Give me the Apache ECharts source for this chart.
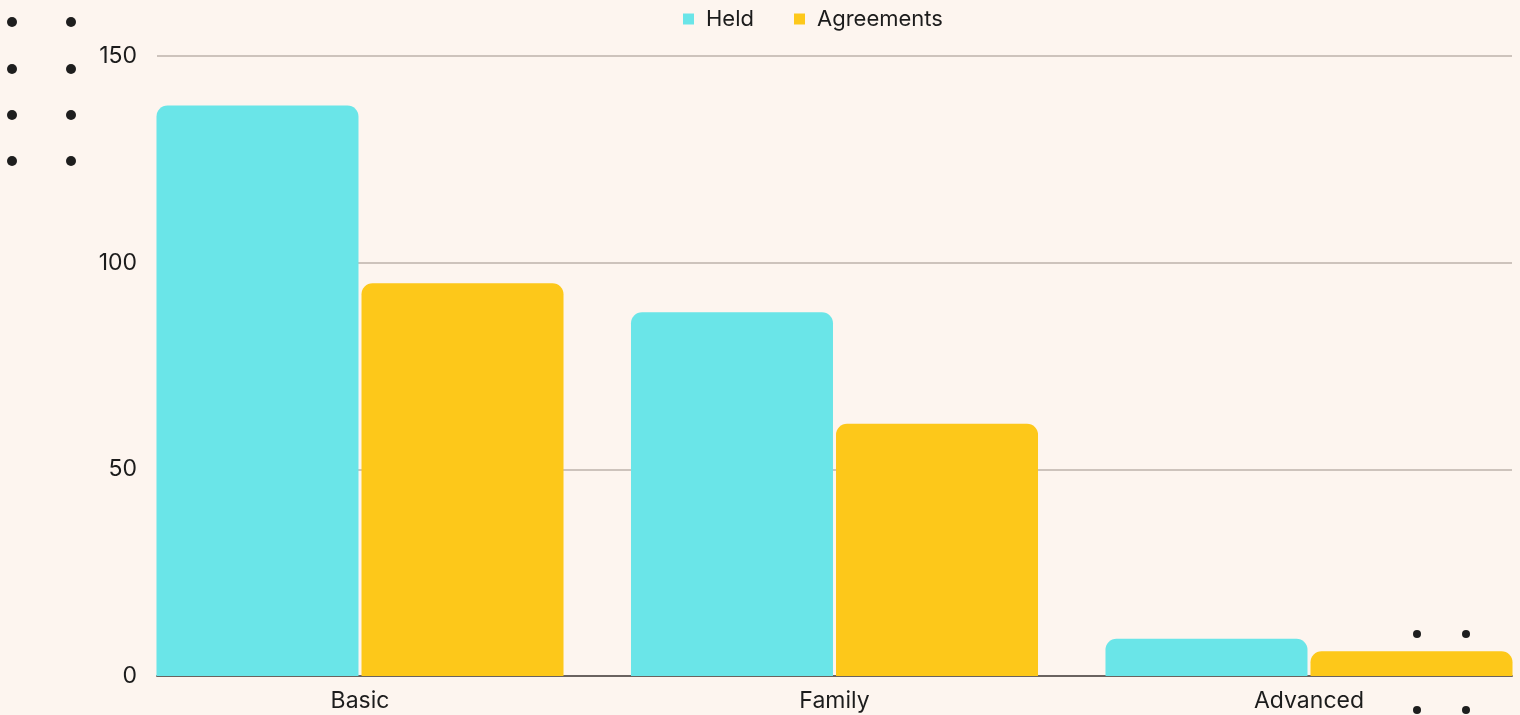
<!DOCTYPE html>
<html>
<head>
<meta charset="utf-8">
<script src="https://cdn.jsdelivr.net/npm/echarts@6/dist/echarts.min.js"></script>
<style>
html,body{margin:0;padding:0;background:#fdf5ef;}
#main{width:1520px;height:715px;}
</style>
</head>
<body>
<div id="main"></div>
<script>
const categories = ['Basic', 'Family', 'Advanced'];
const heldValues = [138, 88, 9];
const agreementValues = [95, 61, 6];
const yTicks = [0, 50, 100, 150];

const chart = echarts.init(document.getElementById('main'));
const font = 'Inter, "Open Sans", sans-serif';
const textColor = '#1c1c1c';

function dot(x, y, r, z) {
  return { type: 'circle', shape: { cx: x, cy: y, r: r }, style: { fill: '#1e1e1e' }, z: z, silent: true };
}
const dots = [];
[22, 69, 115, 161].forEach(y => { dots.push(dot(12, y, 5, 1)); dots.push(dot(71, y, 5, 1)); });
[634, 672, 710].forEach(y => { dots.push(dot(1417, y, 4, 1)); dots.push(dot(1466, y, 4, 1)); });

chart.setOption({
  backgroundColor: '#fdf5ef',
  animation: false,
  textStyle: { fontFamily: font },
  legend: {
    top: 8,
    left: 683,
    padding: 0,
    itemWidth: 11,
    itemHeight: 11,
    itemGap: 40,
    icon: 'rect',
    textStyle: { fontSize: 22, color: textColor, fontFamily: font, padding: [0, 0, 0, 7] },
    data: ['Held', 'Agreements']
  },
  graphic: dots,
  grid: [
    { left: 122.75, width: 1423.5, top: 56, bottom: 39, outerBoundsMode: 'none', containLabel: false },
    { left: 157, right: 8, top: 56, bottom: 39, outerBoundsMode: 'none' }
  ],
  xAxis: [
    {
      type: 'category', gridIndex: 0, data: categories,
      axisLine: { show: false }, axisTick: { show: false },
      axisLabel: { fontSize: 23, color: textColor, margin: 14, fontFamily: font }
    },
    {
      type: 'category', gridIndex: 1, data: categories,
      axisLine: { show: true, lineStyle: { color: '#6a6360', width: 2 } },
      axisTick: { show: false }, axisLabel: { show: false }
    }
  ],
  yAxis: [
    {
      type: 'value', gridIndex: 0, min: 0, max: 150, interval: 50,
      axisLabel: { show: false }, splitLine: { show: false },
      axisLine: { show: false }, axisTick: { show: false }
    },
    {
      type: 'value', gridIndex: 1, min: yTicks[0], max: yTicks[yTicks.length - 1], interval: 50,
      axisLabel: { fontSize: 23, color: textColor, margin: 20, fontFamily: font },
      splitLine: { show: true, lineStyle: { color: '#bcb2ab', width: 1.5 } },
      axisLine: { show: false }, axisTick: { show: false }
    }
  ],
  series: [
    {
      name: 'Held', type: 'bar', xAxisIndex: 0, yAxisIndex: 0, data: heldValues,
      barWidth: 202, barGap: '1.5%',
      itemStyle: { color: '#6ae5e8', borderRadius: [11, 11, 0, 0] }, z: 3
    },
    {
      name: 'Agreements', type: 'bar', xAxisIndex: 0, yAxisIndex: 0, data: agreementValues,
      barWidth: 202, barGap: '1.5%',
      itemStyle: { color: '#fdc81a', borderRadius: [11, 11, 0, 0] }, z: 3
    }
  ]
});
</script>
</body>
</html>
